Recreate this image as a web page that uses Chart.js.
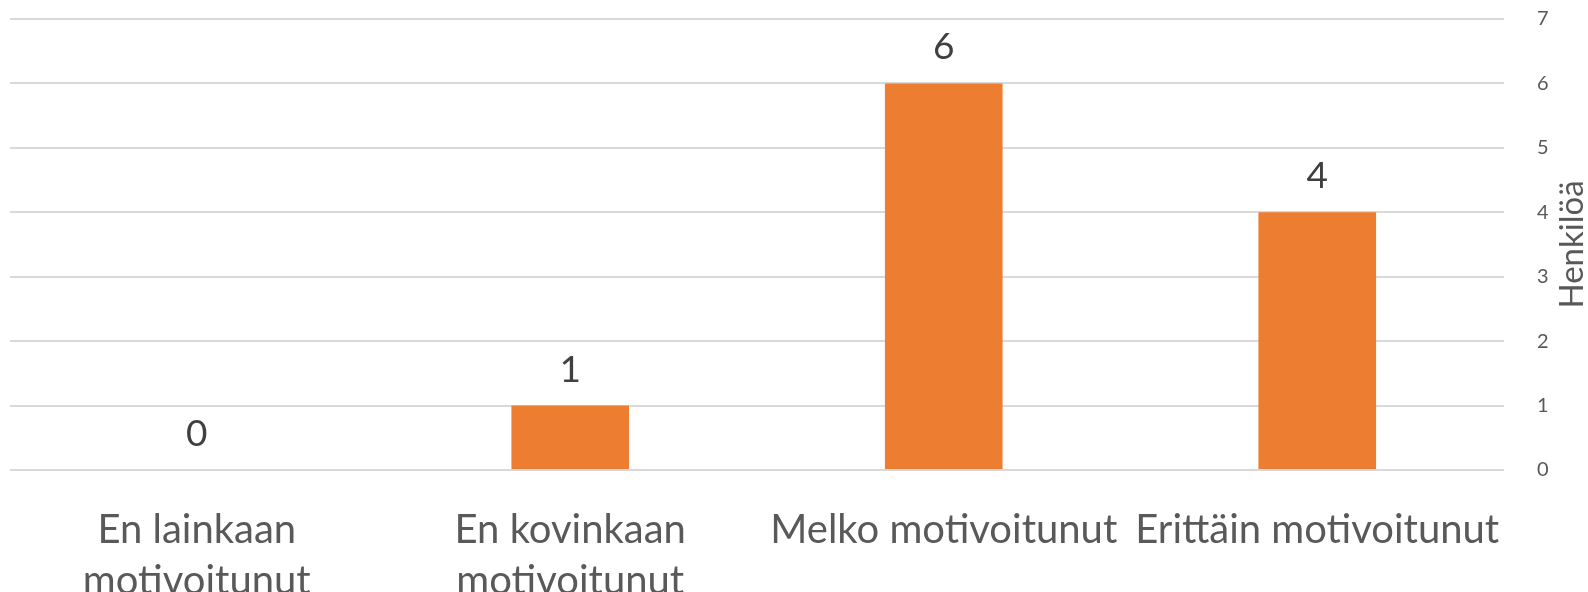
<!DOCTYPE html>
<html>
<head>
<meta charset="utf-8">
<script src="https://cdn.jsdelivr.net/npm/chart.js@4"></script>
<style>
  html, body { margin: 0; padding: 0; background: #fff; }
  #wrap { width: 1588px; height: 592px; }
</style>
</head>
<body>
<div id="wrap"><canvas id="chart" width="1588" height="592"></canvas></div>
<script>
const categories = [['En lainkaan', 'motivoitunut'], ['En kovinkaan', 'motivoitunut'], 'Melko motivoitunut', 'Erittäin motivoitunut'];
const values = [0, 1, 6, 4];
const yTitle = 'Henkilöä';

const fontFamily = 'Lato, "Open Sans", sans-serif';

// 값 라벨 (막대 위) + 오른쪽 축 제목 (아래→위 회전)
const barLabels = {
  id: 'barLabels',
  afterDatasetsDraw(chart) {
    const { ctx, chartArea } = chart;
    const meta = chart.getDatasetMeta(0);
    ctx.save();
    ctx.font = '37px ' + fontFamily;
    ctx.fillStyle = '#404040';
    ctx.textAlign = 'center';
    ctx.textBaseline = 'alphabetic';
    meta.data.forEach((bar, i) => {
      ctx.fillText(String(values[i]), bar.x, bar.y - 24);
    });
    ctx.restore();

    ctx.save();
    ctx.font = '33px ' + fontFamily;
    ctx.fillStyle = '#595959';
    ctx.textAlign = 'center';
    ctx.textBaseline = 'middle';
    ctx.translate(chart.width - 16, (chartArea.top + chartArea.bottom) / 2);
    ctx.rotate(-Math.PI / 2);
    ctx.fillText(yTitle, 0, 0);
    ctx.restore();
  }
};

new Chart(document.getElementById('chart'), {
  type: 'bar',
  data: {
    labels: categories,
    datasets: [{ data: values, backgroundColor: '#ED7D31', borderWidth: 0, barPercentage: 0.315, categoryPercentage: 1 }]
  },
  options: {
    responsive: false,
    animation: false,
    layout: { padding: { top: 19, left: 10, right: 0, bottom: 0 } },
    plugins: { legend: { display: false }, tooltip: { enabled: false } },
    scales: {
      x: {
        grid: { display: false, drawTicks: false },
        border: { display: false },
        ticks: { color: '#595959', font: { family: fontFamily, size: 40, lineHeight: 1.27 }, maxRotation: 0, minRotation: 0, autoSkip: false, padding: 35 },
        afterFit: s => { s.height = 122; s.paddingLeft = 0; s.paddingRight = 0; }
      },
      y: {
        position: 'right',
        min: 0, max: 7,
        grid: { color: '#d9d9d9', lineWidth: 2, drawTicks: false },
        border: { display: false },
        ticks: { stepSize: 1, color: '#595959', font: { family: fontFamily, size: 20 }, padding: 33 },
        afterFit: s => { s.width = 84; s.paddingTop = 0; s.paddingBottom = 0; }
      }
    }
  },
  plugins: [barLabels]
});
</script>
</body>
</html>
